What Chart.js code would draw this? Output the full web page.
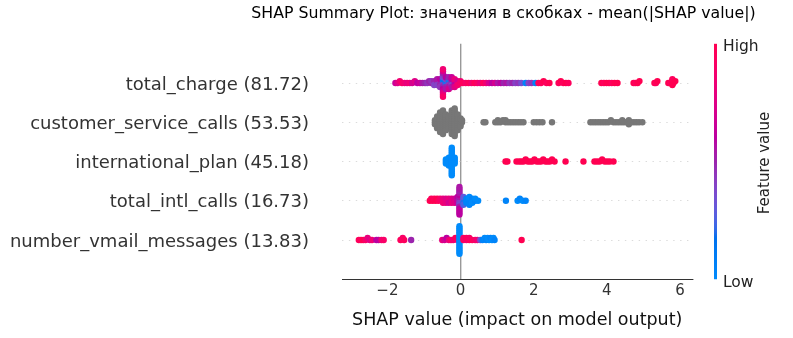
<!DOCTYPE html>
<html>
<head>
<meta charset="utf-8">
<script src="https://cdn.jsdelivr.net/npm/chart.js@4.4.0/dist/chart.umd.min.js"></script>
<style>
  html, body { margin: 0; padding: 0; background: #fff; }
  #wrap { width: 793px; height: 338px; position: relative; }
</style>
</head>
<body>
<div id="wrap"><canvas id="shapChart"></canvas></div>
<script>
// Features, top row first, with mean(|SHAP value|) shown in brackets
const featureNames = ['total_charge', 'customer_service_calls', 'international_plan', 'total_intl_calls', 'number_vmail_messages'];
const meanAbsShap = [81.72, 53.53, 45.18, 16.73, 13.83];
const xTicks = [-2, 0, 2, 4, 6];
const titleText = 'SHAP Summary Plot: значения в скобках - mean(|SHAP value|)';

// SHAP values per sample and the normalised feature value (0 = low, 1 = high)
const totalChargeShap = [
  -1.78, -1.72, -1.66, -1.60, -1.53, -1.46, -1.39, -1.32, -1.25, -1.18, -1.11, -1.04, -0.97, -0.91, -0.86,
  -0.80, -0.80, -0.72, -0.72, -0.72, -0.64, -0.64, -0.64, -0.64, -0.56, -0.56, -0.56, -0.56, -0.56,
  -0.48, -0.48, -0.48, -0.48, -0.48, -0.48, -0.48, -0.48, -0.48, -0.48, -0.48, -0.48, -0.48, -0.48, -0.48,
  -0.40, -0.40, -0.40, -0.40, -0.40, -0.40, -0.40, -0.32, -0.32, -0.32, -0.32, -0.32, -0.32, -0.32,
  -0.24, -0.24, -0.24, -0.24, -0.24, -0.24, -0.16, -0.16, -0.16, -0.16, -0.16, -0.08, -0.08, -0.08, 0.00, 0.00,
  0.06, 0.14, 0.22, 0.30, 0.38, 0.46, 0.54, 0.62, 0.70, 0.78, 0.86, 0.94, 1.02, 1.10, 1.18, 1.26, 1.34, 1.42, 1.50, 1.58, 1.66,
  1.78, 1.86, 1.94, 2.05, 2.13, 2.20, 2.27, 2.35, 2.43, 2.68, 2.74, 2.81, 2.88, 2.95,
  3.85, 3.92, 3.99, 4.06, 4.13, 4.21, 4.29, 4.73, 4.78, 4.84, 4.89, 5.30, 5.34, 5.38,
  5.68, 5.73, 5.78, 5.79, 5.79, 5.82, 5.87
];
const totalChargeFeat = [
  0.65, 0.75, 0.85, 0.9, 0.85, 0.8, 0.85, 0.7, 0.75, 0.6, 0.65, 0.55, 0.5, 0.45, 0.5,
  0.5, 0.45, 0.45, 0.5, 0.4, 0.45, 0.5, 0.4, 0.55, 0.4, 0.45, 0.5, 0.6, 0.45,
  0.3, 0.2, 0.45, 0.15, 0.5, 0.35, 0.6, 0.4, 0.65, 0.5, 0.75, 0.7, 0.8, 0.85, 0.9,
  0.15, 0.1, 0.2, 0.4, 0.5, 0.6, 0.55, 0.3, 0.1, 0.45, 0.2, 0.55, 0.5, 0.7,
  0.45, 0.5, 0.4, 0.6, 0.55, 0.65, 0.5, 0.7, 0.6, 0.8, 0.75, 0.8, 0.7, 0.85, 0.9, 0.85,
  0.95, 0.9, 0.95, 0.85, 0.95, 0.9, 0.8, 0.95, 0.85, 0.7, 0.6, 0.7, 0.55, 0.6, 0.5, 0.55, 0.45, 0.5, 0.4, 0.45, 0.35,
  0.05, 0.4, 0.45, 0.05, 0.95, 0.95, 1, 0.95, 1, 0.95, 1, 0.95, 1, 0.95,
  1, 0.95, 1, 1, 0.95, 1, 1, 1, 0.95, 1, 1, 1, 0.95, 1,
  1, 0.95, 1, 1, 0.95, 1, 1
];

// customer_service_calls has no feature values, so its points are grey
const customerServiceCallsShap = [
  -0.70, -0.70, -0.70,
  -0.64, -0.64, -0.64, -0.64, -0.64, -0.64, -0.64,
  -0.56, -0.56, -0.56, -0.56, -0.56, -0.56, -0.56, -0.56, -0.56, -0.56, -0.56,
  -0.48, -0.48, -0.48, -0.48, -0.48, -0.48, -0.48, -0.48, -0.48, -0.48, -0.48, -0.48, -0.48,
  -0.40, -0.40, -0.40, -0.40, -0.40, -0.40, -0.40, -0.40, -0.40,
  -0.32, -0.32, -0.32, -0.32, -0.32, -0.32, -0.32,
  -0.24, -0.24, -0.24, -0.24, -0.24, -0.24, -0.24, -0.24, -0.24, -0.24, -0.24, -0.24, -0.24,
  -0.16, -0.16, -0.16, -0.16, -0.16, -0.16, -0.16, -0.16, -0.16, -0.16, -0.16, -0.16, -0.16, -0.16, -0.16,
  -0.08, -0.08, -0.08, -0.08, -0.08, -0.08, -0.08, -0.08, -0.08,
  0.00, 0.00, 0.00, 0.00, 0.00, 0.04, 0.04,
  0.63, 0.68, 0.95, 1.02, 1.02, 1.09, 1.16, 1.23, 1.23, 1.30, 1.37, 1.44, 1.51, 1.58, 1.65, 1.72,
  2.00, 2.08, 2.16, 2.24, 2.50,
  3.55, 3.62, 3.69, 3.76, 3.83, 3.90, 3.97, 4.04, 4.11, 4.18, 4.25, 4.32, 4.39, 4.42, 4.46,
  4.53, 4.60, 4.60, 4.67, 4.74, 4.81, 4.88, 4.97
];
const customerServiceCallsFeat = null;

const internationalPlanShap = [
  -0.40, -0.40, -0.40, -0.32, -0.32, -0.32, -0.32, -0.32,
  -0.24, -0.24, -0.24, -0.24, -0.24, -0.24, -0.24, -0.24, -0.24, -0.24, -0.24, -0.24, -0.24, -0.24, -0.24,
  -0.16, -0.16, -0.16, -0.16,
  1.23, 1.28, 1.53, 1.60, 1.66, 1.72, 1.78, 1.84, 1.90, 1.96, 2.02, 2.08, 2.14, 2.20, 2.26, 2.32, 2.38, 2.44, 2.50, 2.57,
  2.87, 3.36, 3.66, 3.73, 3.80, 3.87, 3.94, 4.01, 4.08, 4.18
];
const internationalPlanFeat = [
  0, 0, 0, 0, 0, 0, 0, 0,
  0, 0, 0, 0, 0, 0, 0, 0, 0, 0, 0, 0, 0, 0, 0,
  0, 0, 0, 0,
  1, 1, 1, 1, 1, 1, 1, 1, 1, 1, 1, 1, 1, 1, 1, 1, 1, 1, 1, 1,
  1, 1, 1, 1, 1, 1, 1, 1, 1, 1
];

const totalIntlCallsShap = [
  -0.84, -0.80, -0.76, -0.72, -0.68, -0.64, -0.60, -0.56,
  -0.48, -0.48, -0.48, -0.40, -0.40, -0.40, -0.32, -0.32, -0.32, -0.24, -0.24, -0.24, -0.16, -0.16, -0.16,
  -0.08, -0.08, -0.08, -0.08,
  -0.03, -0.03, -0.03, -0.03, -0.03, -0.03, -0.03, -0.03, -0.03, -0.03, -0.03, -0.03, -0.03, -0.03, -0.03,
  0.08, 0.08, 0.08, 0.08, 0.08,
  0.16, 0.16, 0.16, 0.24, 0.24, 0.24, 0.24, 0.24, 0.32, 0.32, 0.32, 0.40, 0.40, 0.48,
  1.24, 1.56, 1.62, 1.70, 1.78
];
const totalIntlCallsFeat = [
  1, 0.95, 1, 0.95, 1, 1, 0.95, 0.9,
  0.85, 0.8, 0.85, 0.8, 0.75, 0.8, 0.75, 0.8, 0.7, 0.7, 0.75, 0.8, 0.65, 0.7, 0.75,
  0.6, 0.55, 0.65, 0.6,
  0.45, 0.5, 0.4, 0.55, 0.35, 0.6, 0.5, 0.55, 0.6, 0.5, 0.65, 0.55, 0.6, 0.55, 0.6,
  0.3, 0.25, 0.2, 0.3, 0.25,
  0.05, 0.05, 0.05, 0.05, 0, 0.05, 0, 0.05, 0, 0.05, 0, 0.05, 0, 0,
  0.05, 0, 0.05, 0, 0.05
];

const numberVmailMessagesShap = [
  -2.78, -2.72, -2.66, -2.60, -2.54, -2.48, -2.42, -2.30, -2.24, -2.16, -2.10,
  -1.64, -1.58, -1.54, -1.35,
  -0.50, -0.44, -0.38, -0.32, -0.26, -0.20, -0.14, -0.08,
  -0.03, -0.03, -0.03, -0.03, -0.03, -0.03, -0.03, -0.03, -0.03, -0.03, -0.03, -0.03, -0.03, -0.03, -0.03,
  0.08, 0.08, 0.16, 0.16, 0.24, 0.24, 0.32, 0.40, 0.46,
  0.54, 0.60, 0.66, 0.70, 0.74, 0.78, 0.82, 0.86, 0.90, 0.93,
  1.67
];
const numberVmailMessagesFeat = [
  0.95, 0.95, 1, 0.9, 0.8, 0.75, 0.85, 0.6, 0.6, 0.85, 0.9,
  0.95, 0.9, 0.95, 0.5,
  0.8, 0.7, 0.6, 0.8, 0.9, 0.85, 0.95, 0.9,
  0, 0, 0, 0, 0, 0, 0, 0, 0, 0, 0, 0, 0, 0, 0,
  0.95, 0.9, 0.85, 0.95, 0.95, 0.9, 0.95, 0.9, 0.85,
  0.35, 0.05, 0, 0.05, 0, 0, 0.05, 0, 0, 0.05,
  1
];

const rows = [
  [totalChargeShap, totalChargeFeat],
  [customerServiceCallsShap, customerServiceCallsFeat],
  [internationalPlanShap, internationalPlanFeat],
  [totalIntlCallsShap, totalIntlCallsFeat],
  [numberVmailMessagesShap, numberVmailMessagesFeat]
];

// shap's red_blue map: LCH interpolation blue -> red, lightness dips in the middle
function labToRgb(L, a, b) {
  let y = (L + 16) / 116, x = a / 500 + y, z = y - b / 200;
  const f = t => (t ** 3 > 0.008856 ? t ** 3 : (t - 16 / 116) / 7.787);
  x = 0.95047 * f(x); y = f(y); z = 1.08883 * f(z);
  const lin = [
    x * 3.2406 - y * 1.5372 - z * 0.4986,
    -x * 0.9689 + y * 1.8758 + z * 0.0415,
    x * 0.0557 - y * 0.2040 + z * 1.0570
  ];
  const [r, g, bl] = lin.map(c => {
    c = c > 0.0031308 ? 1.055 * Math.pow(c, 1 / 2.4) - 0.055 : 12.92 * c;
    return Math.round(255 * Math.min(1, Math.max(0, c)));
  });
  return `rgb(${r},${g},${bl})`;
}

function featureColor(v) {
  if (v == null) return '#777777';
  const L = v < 0.5 ? 54 - 28 * v : 40 + 28 * (v - 0.5);
  const C = 70 + 20 * v;
  const h = 4.6588 + (0.35470565 + 2 * Math.PI - 4.6588) * v;
  return labToRgb(L, C * Math.cos(h), C * Math.sin(h));
}

// beeswarm: points sharing a bin are stacked alternately above/below the row
const BIN = 0.08;
const LAYER = 0.05;
function swarm(xs, row) {
  const used = {};
  return xs.map(x => {
    const b = Math.round(x / BIN);
    const layer = used[b] = (used[b] === undefined ? 0 : used[b] + 1);
    const off = Math.ceil(layer / 2) * (layer % 2 ? 1 : -1);
    return { x: x, y: row + off * LAYER };
  });
}

const datasets = rows.map(([shap, feat], i) => ({
  data: swarm(shap, featureNames.length - 1 - i),
  pointRadius: 3.2,
  pointHoverRadius: 3.2,
  pointBorderWidth: 0,
  pointBackgroundColor: shap.map((_, k) => featureColor(feat ? feat[k] : null))
}));

const rowLabels = featureNames.map((n, i) => `${n} (${meanAbsShap[i].toFixed(2)})`);

const decorations = {
  id: 'decorations',
  afterDraw(chart) {
    const ctx = chart.ctx;
    const { top, bottom } = chart.chartArea;
    ctx.save();
    ctx.fillStyle = '#000';
    ctx.font = '15.75px "DejaVu Sans"';
    ctx.textAlign = 'center';
    ctx.textBaseline = 'alphabetic';
    ctx.fillText(titleText, 503.5, 17.5);

    // colour bar
    const grad = ctx.createLinearGradient(0, bottom, 0, top);
    for (let i = 0; i <= 40; i++) grad.addColorStop(i / 40, featureColor(i / 40));
    ctx.fillStyle = grad;
    ctx.fillRect(714, top, 3, bottom - top);

    ctx.fillStyle = '#222';
    ctx.font = '15.5px "DejaVu Sans"';
    ctx.textAlign = 'left';
    ctx.fillText('High', 723, 50.5);
    ctx.fillText('Low', 723, 286.5);

    ctx.translate(769, 163);
    ctx.rotate(-Math.PI / 2);
    ctx.textAlign = 'center';
    ctx.font = '15px "DejaVu Sans"';
    ctx.fillText('Feature value', 0, 0);
    ctx.restore();
  }
};

new Chart(document.getElementById('shapChart'), {
  type: 'scatter',
  data: { datasets },
  plugins: [decorations],
  options: {
    responsive: true,
    maintainAspectRatio: false,
    animation: false,
    events: [],
    layout: { padding: { top: 43.75, right: 100.5, left: 0, bottom: 0 } },
    plugins: { legend: { display: false }, tooltip: { enabled: false } },
    scales: {
      x: {
        type: 'linear',
        min: -3.24,
        max: 6.34,
        afterBuildTicks: scale => { scale.ticks = xTicks.map(v => ({ value: v })); },
        afterFit: scale => { scale.height = 58.75; },
        ticks: {
          color: '#333',
          font: { family: 'DejaVu Sans', size: 15 },
          padding: 3,
          callback: v => (v < 0 ? '\u2212' + Math.abs(v) : String(v))
        },
        grid: {
          drawTicks: false,
          lineWidth: 1.4,
          color: c => (c.tick && c.tick.value === 0 ? '#999999' : 'rgba(0,0,0,0)')
        },
        border: { display: true, color: '#333', width: 1 },
        title: {
          display: true,
          text: 'SHAP value (impact on model output)',
          color: '#111',
          font: { family: 'DejaVu Sans', size: 17.5 },
          padding: { top: 0, bottom: 7 }
        }
      },
      y: {
        type: 'linear',
        min: -1,
        max: 5,
        afterBuildTicks: scale => { scale.ticks = featureNames.map((_, i) => ({ value: i })); },
        afterFit: scale => { scale.width = 342; },
        ticks: {
          color: '#333',
          font: { family: 'DejaVu Sans', size: 18 },
          padding: 33,
          labelOffset: 2,
          autoSkip: false,
          callback: v => rowLabels[featureNames.length - 1 - v]
        },
        grid: { drawTicks: false, color: '#cccccc', lineWidth: 0.7 },
        border: { display: false, dash: [1.4, 5.5] }
      }
    }
  }
});
</script>
</body>
</html>
